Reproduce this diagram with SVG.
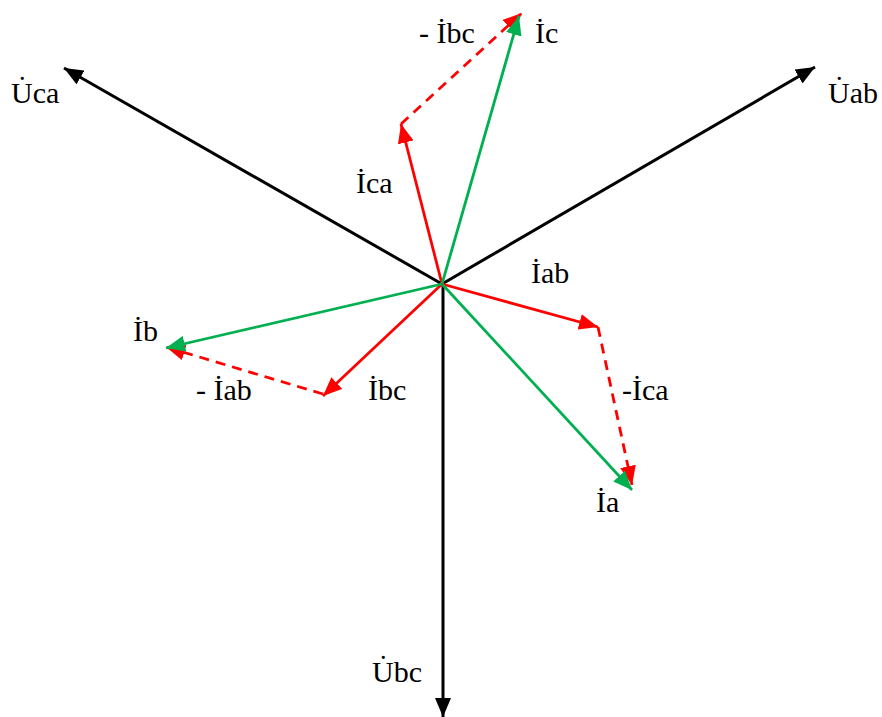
<svg xmlns="http://www.w3.org/2000/svg" width="882" height="717" viewBox="0 0 882 717">
<defs>
<style>
.k{stroke:#000;stroke-width:3;fill:none}
.r{stroke:#FF0000;stroke-width:2.8;fill:none}
.g{stroke:#00B050;stroke-width:2.8;fill:none}
.d{stroke-dasharray:10 7}
text{font-family:"Liberation Serif","Times New Roman",serif;font-size:30px;fill:#000}
</style>
<marker id="ak" markerUnits="userSpaceOnUse" markerWidth="20" markerHeight="16" refX="19" refY="8" orient="auto"><path d="M0,0 L19,8 L0,16 z" fill="#000"/></marker>
<marker id="ar" markerUnits="userSpaceOnUse" markerWidth="20" markerHeight="16" refX="19" refY="8" orient="auto"><path d="M0,0 L19,8 L0,16 z" fill="#FF0000"/></marker>
<marker id="ag" markerUnits="userSpaceOnUse" markerWidth="20" markerHeight="16" refX="19" refY="8" orient="auto"><path d="M0,0 L19,8 L0,16 z" fill="#00B050"/></marker>
</defs>
<g id="connectors">
<line id="Uca" class="k" x1="442" y1="284" x2="64" y2="68" marker-end="url(#ak)"/>
<line id="Uab" class="k" x1="442" y1="284" x2="815" y2="67" marker-end="url(#ak)"/>
<line id="Ubc" class="k" x1="443" y1="284" x2="443" y2="717" marker-end="url(#ak)"/>
<line id="Ica" class="r" x1="442" y1="284" x2="401" y2="124" marker-end="url(#ar)"/>
<line id="mIbc" class="r d" x1="401" y1="124" x2="522" y2="13" marker-end="url(#ar)"/>
<line id="Ic" class="g" x1="442" y1="284" x2="519" y2="16" marker-end="url(#ag)"/>
<line id="Iab" class="r" x1="442" y1="284" x2="598" y2="327" marker-end="url(#ar)"/>
<line id="mIca" class="r d" x1="598" y1="327" x2="632" y2="485" marker-end="url(#ar)"/>
<line id="Ia" class="g" x1="442" y1="284" x2="632" y2="490" marker-end="url(#ag)"/>
<line id="Ibc" class="r" x1="442" y1="284" x2="323" y2="396" marker-end="url(#ar)"/>
<line id="mIab" class="r d" x1="323" y1="394" x2="166" y2="347" marker-end="url(#ar)"/>
<line id="Ib" class="g" x1="442" y1="284" x2="166" y2="348" marker-end="url(#ag)"/>
</g>
<g id="labels">
<text x="11" y="103">U̇ca</text>
<text x="828" y="103">U̇ab</text>
<text x="372" y="682">U̇bc</text>
<text x="419" y="43">- İbc</text>
<text x="535" y="43">İc</text>
<text x="356" y="193">İca</text>
<text x="531" y="283">İab</text>
<text x="133" y="341">İb</text>
<text x="196" y="400">- İab</text>
<text x="368" y="400">İbc</text>
<text x="622" y="400">-İca</text>
<text x="596" y="512">İa</text>
</g>
</svg>
